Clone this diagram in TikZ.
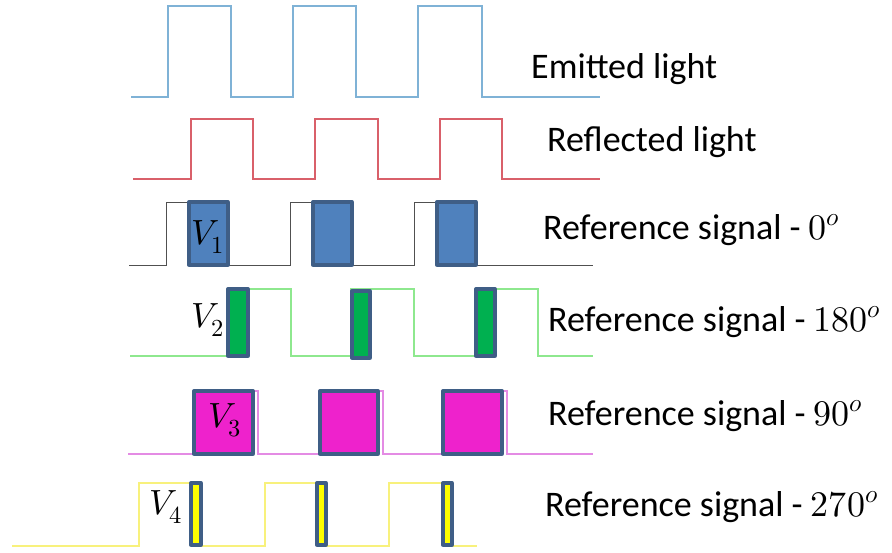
\documentclass[tikz,border=0pt]{standalone}
\usepackage{fontspec}
\usepackage{unicode-math}
\setmainfont{Carlito}
\setmathfont{Latin Modern Math}
\definecolor{emitc}{HTML}{7FB2D6}
\definecolor{reflc}{HTML}{D9606A}
\definecolor{zeroc}{HTML}{505050}
\definecolor{halfc}{HTML}{8EE88E}
\definecolor{quarc}{HTML}{E48BE4}
\definecolor{tquarc}{HTML}{F8F17C}
\definecolor{edgec}{HTML}{3F5E86}
\definecolor{bluefill}{HTML}{4F81BD}
\definecolor{greenfill}{HTML}{00B050}
\definecolor{pinkfill}{HTML}{EE22CC}
\definecolor{yellowfill}{HTML}{FFFF00}
\tikzset{
  sig/.style={line width=1.1pt, line join=miter},
  win/.style={draw=edgec, line width=3.3pt, line join=round},
  caption/.style={anchor=base west, inner sep=0pt, font=\fontsize{36}{40}\selectfont},
  vlabel/.style={inner sep=0pt, font=\fontsize{35}{38}\selectfont}
}
\begin{document}
\begin{tikzpicture}[x=1pt,y=-1pt]
\useasboundingbox (0,0) rectangle (892,552);

% emitted light
\draw[sig, emitc] (131,97) -- (168,97) -- (168,6) -- (231,6) -- (231,97) -- (293,97) -- (293,6)
  -- (356,6) -- (356,97) -- (418,97) -- (418,6) -- (482,6) -- (482,97) -- (600,97);
\node[caption] (emit) at (531,78) {Emitted light};

% reflected light
\draw[sig, reflc] (133,179) -- (191,179) -- (191,119) -- (253,119) -- (253,179) -- (315,179) -- (315,119)
  -- (378,119) -- (378,179) -- (440,179) -- (440,119) -- (502,119) -- (502,179) -- (600,179);
\node[caption] (refl) at (547,151) {Reflected light};

% reference 0 deg
\draw[sig, zeroc, line width=0.9pt] (129,265) -- (166,265) -- (166,202) -- (228,202) -- (228,265) -- (290,265) -- (290,202)
  -- (352,202) -- (352,265) -- (414,265) -- (414,202) -- (476,202) -- (476,265) -- (593,265);
\draw[win, fill=bluefill] (189,202) rectangle (228,265);
\draw[win, fill=bluefill] (313,202) rectangle (352,265);
\draw[win, fill=bluefill] (437,202) rectangle (476,265);
\node[vlabel] (v1) at (208,237) {$V_1$};
\node[caption] (r0) at (543,239) {Reference signal - $0^{o}$};

% reference 180 deg
\draw[sig, halfc] (130,356) -- (228,356) -- (228,289) -- (291,289) -- (291,356) -- (351,356) -- (351,289)
  -- (414,289) -- (414,356) -- (476,356) -- (476,289) -- (538,289) -- (538,356) -- (593,356);
\draw[win, fill=greenfill] (228,289) rectangle (248,356);
\draw[win, fill=greenfill] (352,291) rectangle (370,358);
\draw[win, fill=greenfill] (476,289) rectangle (495,356);
\node[vlabel] (v2) at (208,320) {$V_2$};
\node[caption] (r180) at (548,331) {Reference signal - $180^{o}$};

% reference 90 deg
\draw[sig, quarc] (128,454) -- (195,454) -- (195,391) -- (258,391) -- (258,454) -- (320,454) -- (320,391)
  -- (383,391) -- (383,454) -- (444,454) -- (444,391) -- (507,391) -- (507,454) -- (593,454);
\draw[win, fill=pinkfill] (194,391) rectangle (253,454);
\draw[win, fill=pinkfill] (320,391) rectangle (378,454);
\draw[win, fill=pinkfill] (443,391) rectangle (502,454);
\node[vlabel] (v3) at (225,420) {$V_3$};
\node[caption] (r90) at (548,425) {Reference signal - $90^{o}$};

% reference 270 deg
\draw[sig, tquarc] (12,546) -- (139,546) -- (139,483) -- (201,483) -- (201,546) -- (265,546) -- (265,483)
  -- (326,483) -- (326,546) -- (389,546) -- (389,483) -- (452,483) -- (452,546) -- (477,546);
\draw[win, fill=yellowfill] (191,483) rectangle (201,545);
\draw[win, fill=yellowfill] (317,483) rectangle (326,545);
\draw[win, fill=yellowfill] (443,483) rectangle (452,545);
\node[vlabel] (v4) at (166,507) {$V_4$};
\node[caption] (r270) at (545,516) {Reference signal - $270^{o}$};
\end{tikzpicture}
\end{document}
